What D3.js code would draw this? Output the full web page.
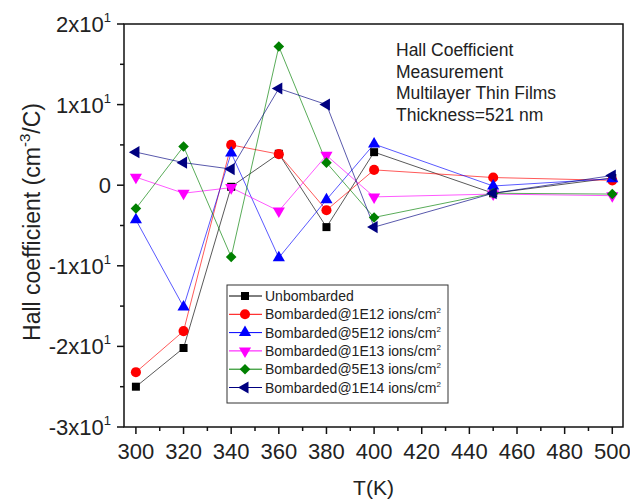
<!DOCTYPE html>
<html>
<head>
<meta charset="utf-8">
<script src="https://cdn.jsdelivr.net/npm/d3@7"></script>
<style>
  body { margin: 0; background: #fff; }
  svg text { font-family: Arial, "Liberation Sans", sans-serif; fill: #222; }
</style>
</head>
<body>
<div id="chart"></div>
<script>
// Temperatures (K)
const temps = [300, 320, 340, 360, 380, 400, 450, 500];

// Hall coefficient values per series
const unbombarded = [-25.0, -20.2, -0.2, 3.9, -5.2, 4.1, -1.0, 0.9];
const bomb1e12    = [-23.2, -18.1, 5.0, 3.85, -3.1, 1.9, 0.95, 0.6];
const bomb5e12    = [-4.3, -15.1, 4.0, -9.0, -1.8, 5.1, -0.1, 0.8];
const bomb1e13    = [1.0, -1.0, -0.3, -3.2, 3.7, -1.45, -1.1, -1.3];
const bomb5e13    = [-2.9, 4.8, -8.9, 17.2, 2.8, -4.0, -1.0, -1.1];
const bomb1e14    = [4.1, 2.8, 2.0, 12.0, 10.0, -5.2, -1.0, 1.2];

const seriesNames = ['Unbombarded', 'Bombarded@1E12 ions/cm', 'Bombarded@5E12 ions/cm',
  'Bombarded@1E13 ions/cm', 'Bombarded@5E13 ions/cm', 'Bombarded@1E14 ions/cm'];

const xTicks = [300, 320, 340, 360, 380, 400, 420, 440, 460, 480, 500];
const yTicks = [20, 10, 0, -10, -20, -30];
const yTickMantissa = ['2', '1', '0', '-1', '-2', '-3'];

const annotation = ['Hall Coefficient', 'Measurement', 'Multilayer Thin Films', 'Thickness=521 nm'];

const series = [
  { name: seriesNames[0], values: unbombarded, color: '#000000', shape: 'square' },
  { name: seriesNames[1], values: bomb1e12,    color: '#ff0000', shape: 'circle' },
  { name: seriesNames[2], values: bomb5e12,    color: '#0000ff', shape: 'up' },
  { name: seriesNames[3], values: bomb1e13,    color: '#ff00ff', shape: 'down' },
  { name: seriesNames[4], values: bomb5e13,    color: '#008000', shape: 'diamond' },
  { name: seriesNames[5], values: bomb1e14,    color: '#000080', shape: 'left' }
];

const W = 630, H = 503;
const m = { top: 24, right: 7, bottom: 76, left: 124 };
const w = W - m.left - m.right;
const h = H - m.top - m.bottom;

const svg = d3.select('#chart').append('svg').attr('width', W).attr('height', H);
const g = svg.append('g').attr('transform', `translate(${m.left},${m.top})`);

const x = d3.scaleLinear().domain([295, 504.5]).range([0, w]);
const y = d3.scaleLinear().domain([-30, 20]).range([h, 0]);

// frame
g.append('rect').attr('width', w).attr('height', h)
  .attr('fill', 'none').attr('stroke', '#111').attr('stroke-width', 1.5);

// x axis ticks
const xAxis = g.append('g').attr('transform', `translate(0,${h})`);
xAxis.selectAll('line.major').data(xTicks).join('line')
  .attr('x1', d => x(d)).attr('x2', d => x(d)).attr('y1', 0).attr('y2', 7)
  .attr('stroke', '#111').attr('stroke-width', 1.5);
xAxis.selectAll('line.minor').data(xTicks.slice(0, -1).map(d => d + 10)).join('line')
  .attr('x1', d => x(d)).attr('x2', d => x(d)).attr('y1', 0).attr('y2', 4)
  .attr('stroke', '#111').attr('stroke-width', 1.5);
xAxis.selectAll('text').data(xTicks).join('text')
  .attr('x', d => x(d)).attr('y', 32).attr('text-anchor', 'middle')
  .attr('font-size', 22).text(d => d);

// y axis ticks
const yAxis = g.append('g');
yAxis.selectAll('line.major').data(yTicks).join('line')
  .attr('x1', -7).attr('x2', 0).attr('y1', d => y(d)).attr('y2', d => y(d))
  .attr('stroke', '#111').attr('stroke-width', 1.5);
yAxis.selectAll('line.minor').data([15, 5, -5, -15, -25]).join('line')
  .attr('x1', -4).attr('x2', 0).attr('y1', d => y(d)).attr('y2', d => y(d))
  .attr('stroke', '#111').attr('stroke-width', 1.5);
const yLab = yAxis.selectAll('text').data(yTicks).join('text')
  .attr('x', -13).attr('y', d => y(d) + 8).attr('text-anchor', 'end').attr('font-size', 22);
yLab.each(function(d, i) {
  const t = d3.select(this);
  if (d === 0) { t.text('0'); return; }
  t.append('tspan').text(yTickMantissa[i] + 'x10');
  t.append('tspan').attr('dy', -10).attr('font-size', 13).text('1');
});

// axis titles
svg.append('text').attr('x', m.left + w / 2).attr('y', 495).attr('text-anchor', 'middle')
  .attr('font-size', 21).text('T(K)');
const yt = svg.append('text').attr('transform', `translate(40,${m.top + 198}) rotate(-90)`)
  .attr('text-anchor', 'middle').attr('font-size', 23);
yt.append('tspan').text('Hall coefficient (cm');
yt.append('tspan').attr('dy', -10).attr('font-size', 15).text('-3');
yt.append('tspan').attr('dy', 10).text('/C)');

// symbols
function symbolPath(shape) {
  const map = { square: [d3.symbolSquare, 64], circle: [d3.symbolCircle, 80],
    up: [d3.symbolTriangle, 64], down: [d3.symbolTriangle, 64],
    diamond: [d3.symbolSquare, 56], left: [d3.symbolTriangle, 64] };
  const [type, size] = map[shape];
  return d3.symbol().type(type).size(size)();
}
const rot = { up: 0, down: 180, left: -90, square: 0, circle: 0, diamond: 45 };

const line = d3.line().x((d, i) => x(temps[i])).y(d => y(d));

series.forEach(s => {
  g.append('path').datum(s.values).attr('d', line)
    .attr('fill', 'none').attr('stroke', s.color).attr('stroke-width', 1)
    .attr('stroke-opacity', 0.65);
});
series.forEach(s => {
  g.selectAll(null).data(s.values).join('path')
    .attr('d', symbolPath(s.shape))
    .attr('transform', (d, i) => `translate(${x(temps[i])},${y(d)}) rotate(${rot[s.shape]})`)
    .attr('fill', s.color);
});

// annotation
svg.append('g').selectAll('text').data(annotation).join('text')
  .attr('x', 396).attr('y', (d, i) => 56 + i * 21.7)
  .attr('font-size', 17.5).text(d => d);

// legend
const lg = svg.append('g').attr('transform', 'translate(227,285)');
lg.append('rect').attr('width', 221).attr('height', 118)
  .attr('fill', '#fff').attr('stroke', '#333').attr('stroke-width', 1);
series.forEach((s, i) => {
  const cy = 11 + i * 18.3;
  lg.append('line').attr('x1', 2).attr('x2', 35).attr('y1', cy).attr('y2', cy)
    .attr('stroke', s.color).attr('stroke-width', 1);
  lg.append('path').attr('d', symbolPath(s.shape))
    .attr('transform', `translate(18,${cy}) rotate(${rot[s.shape]})`).attr('fill', s.color);
  const t = lg.append('text').attr('x', 38).attr('y', cy + 5).attr('font-size', 14);
  t.append('tspan').text(s.name);
  if (i > 0) t.append('tspan').attr('dy', -6).attr('font-size', 8).text('2');
});
</script>
</body>
</html>
